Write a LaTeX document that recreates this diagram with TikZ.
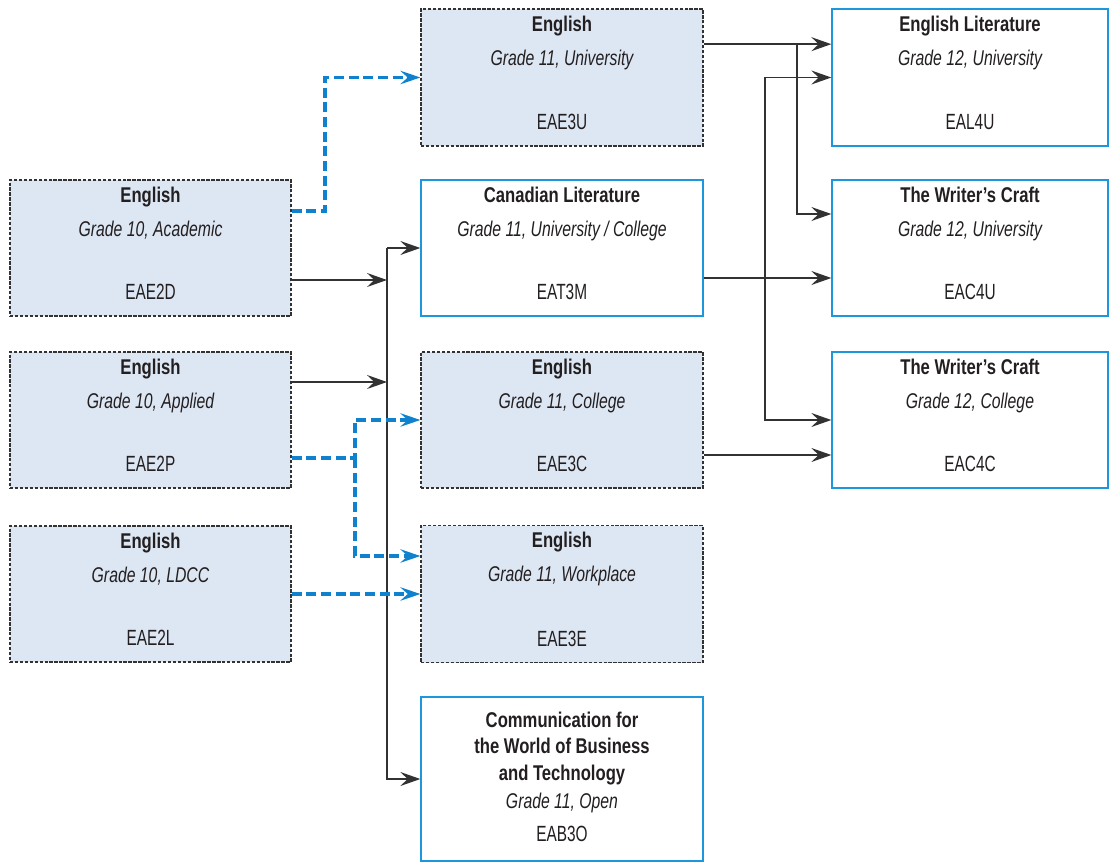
\documentclass[tikz,border=0pt]{standalone}
\usepackage{fontspec}
\setmainfont{Liberation Sans}[FakeStretch=0.70, BoldFeatures={FakeStretch=0.78}, ItalicFeatures={FakeStretch=0.74}]
\usetikzlibrary{arrows.meta}
\definecolor{inkgray}{RGB}{35,31,32}
\definecolor{linegray}{RGB}{50,50,50}
\definecolor{paleblue}{RGB}{221,231,243}
\definecolor{skyblue}{RGB}{30,150,220}
\definecolor{dashblue}{RGB}{16,130,205}
\tikzset{
  required/.style={draw=linegray, fill=paleblue, dash pattern=on 2.5pt off 1.2pt, line width=0.8pt, inner sep=0pt},
  optional/.style={draw=skyblue, fill=white, line width=1pt, inner sep=0pt},
  title/.style={font=\bfseries\fontsize{16}{20}\selectfont, text=inkgray, anchor=base, align=center},
  grade/.style={font=\itshape\fontsize{16}{20}\selectfont, text=inkgray, anchor=base},
  code/.style={font=\fontsize{16.5}{20}\selectfont, text=inkgray, anchor=base},
  link/.style={draw=linegray, line width=1pt, -{Stealth[length=15pt,width=10.5pt,inset=5.5pt]}},
  blink/.style={draw=dashblue, line width=2.3pt, dash pattern=on 7.5pt off 3.5pt, -{Stealth[length=15pt,width=10pt,inset=5.5pt]}}
}
\begin{document}
\begin{tikzpicture}[x=0.75pt, y=-0.75pt]
  \useasboundingbox (0,0) rectangle (1109,863);

  % grade 10
  \node[required, minimum width=210.75pt, minimum height=102pt] (eae2d) at (150.5,248) {};
  \node[title] (eae2d-t) at ([yshift=-17.25pt]eae2d.north) {English};
  \node[grade] (eae2d-g) at ([yshift=-42.75pt]eae2d.north) {Grade 10, Academic};
  \node[code]  (eae2d-c) at ([yshift=12.75pt]eae2d.south) {EAE2D};

  \node[required, minimum width=210.75pt, minimum height=102pt] (eae2p) at (150.5,420) {};
  \node[title] (eae2p-t) at ([yshift=-17.25pt]eae2p.north) {English};
  \node[grade] (eae2p-g) at ([yshift=-42.75pt]eae2p.north) {Grade 10, Applied};
  \node[code]  (eae2p-c) at ([yshift=12.75pt]eae2p.south) {EAE2P};

  \node[required, minimum width=210.75pt, minimum height=102pt] (eae2l) at (150.5,594) {};
  \node[title] (eae2l-t) at ([yshift=-17.25pt]eae2l.north) {English};
  \node[grade] (eae2l-g) at ([yshift=-42.75pt]eae2l.north) {Grade 10, LDCC};
  \node[code]  (eae2l-c) at ([yshift=12.75pt]eae2l.south) {EAE2L};

  % grade 11
  \node[required, minimum width=211.5pt, minimum height=102.75pt] (eae3u) at (562,77.5) {};
  \node[title] (eae3u-t) at ([yshift=-17.25pt]eae3u.north) {English};
  \node[grade] (eae3u-g) at ([yshift=-42.75pt]eae3u.north) {Grade 11, University};
  \node[code]  (eae3u-c) at ([yshift=12.75pt]eae3u.south) {EAE3U};

  \node[optional, minimum width=211.5pt, minimum height=102pt] (eat3m) at (562,248) {};
  \node[title] (eat3m-t) at ([yshift=-17.25pt]eat3m.north) {Canadian Literature};
  \node[grade] (eat3m-g) at ([yshift=-42.75pt]eat3m.north) {Grade 11, University / College};
  \node[code]  (eat3m-c) at ([yshift=12.75pt]eat3m.south) {EAT3M};

  \node[required, minimum width=211.5pt, minimum height=102pt] (eae3c) at (562,420) {};
  \node[title] (eae3c-t) at ([yshift=-17.25pt]eae3c.north) {English};
  \node[grade] (eae3c-g) at ([yshift=-42.75pt]eae3c.north) {Grade 11, College};
  \node[code]  (eae3c-c) at ([yshift=12.75pt]eae3c.south) {EAE3C};

  \node[required, minimum width=211.5pt, minimum height=102.75pt] (eae3e) at (562,594) {};
  \node[title] (eae3e-t) at ([yshift=-17.25pt]eae3e.north) {English};
  \node[grade] (eae3e-g) at ([yshift=-42.75pt]eae3e.north) {Grade 11, Workplace};
  \node[code]  (eae3e-c) at ([yshift=12.75pt]eae3e.south) {EAE3E};

  \node[optional, minimum width=211.5pt, minimum height=123pt] (eab3o) at (562,779) {};
  \node[title, anchor=north] (eab3o-t) at ([yshift=-8pt]eab3o.north) {Communication for\\the World of Business\\and Technology};
  \node[grade] (eab3o-g) at ([yshift=-84pt]eab3o.north) {Grade 11, Open};
  \node[code]  (eab3o-c) at ([yshift=15pt]eab3o.south) {EAB3O};

  % grade 12
  \node[optional, minimum width=207pt, minimum height=102.75pt] (eal4u) at (970,77.5) {};
  \node[title] (eal4u-t) at ([yshift=-17.25pt]eal4u.north) {English Literature};
  \node[grade] (eal4u-g) at ([yshift=-42.75pt]eal4u.north) {Grade 12, University};
  \node[code]  (eal4u-c) at ([yshift=12.75pt]eal4u.south) {EAL4U};

  \node[optional, minimum width=207pt, minimum height=102pt] (eac4u) at (970,248) {};
  \node[title] (eac4u-t) at ([yshift=-17.25pt]eac4u.north) {The Writer’s Craft};
  \node[grade] (eac4u-g) at ([yshift=-42.75pt]eac4u.north) {Grade 12, University};
  \node[code]  (eac4u-c) at ([yshift=12.75pt]eac4u.south) {EAC4U};

  \node[optional, minimum width=207pt, minimum height=102pt] (eac4c) at (970,420) {};
  \node[title] (eac4c-t) at ([yshift=-17.25pt]eac4c.north) {The Writer’s Craft};
  \node[grade] (eac4c-g) at ([yshift=-42.75pt]eac4c.north) {Grade 12, College};
  \node[code]  (eac4c-c) at ([yshift=12.75pt]eac4c.south) {EAC4C};

  % junction points
  \coordinate (trunk) at (387,0);
  \coordinate (forkA) at (325,0);
  \coordinate (forkB) at (355,0);
  \coordinate (forkC) at (765,0);
  \coordinate (forkD) at (797,0);
  \coordinate (d1) at ([yshift=27.75pt]eae2d.east);
  \coordinate (d2) at ([yshift=-24pt]eae2d.east);
  \coordinate (p1) at ([yshift=28.5pt]eae2p.east);
  \coordinate (p2) at ([yshift=-28.5pt]eae2p.east);
  \coordinate (w1) at ([yshift=28.5pt]eae3e.west);
  \coordinate (u1) at ([yshift=25pt]eae3u.east);
  \coordinate (l1) at ([yshift=25pt]eal4u.west);
  \coordinate (c1) at ([yshift=25.5pt]eac4u.west);
  \coordinate (m1) at ([yshift=-22.5pt]eat3m.east);
  \coordinate (c2) at ([yshift=-22.5pt]eac4u.west);
  \coordinate (e1) at ([yshift=-26.25pt]eae3c.east);
  \coordinate (k1) at ([yshift=-26.25pt]eac4c.west);

  % grade 10 to grade 11
  \draw[blink] (d1) -- (d1 -| forkA) |- (eae3u.west);
  \draw[link] (d2) -- (d2 -| trunk);
  \draw[link] (p1) -- (p1 -| trunk);
  \draw[link] (trunk |- eat3m.west) -- (eat3m.west);
  \draw[link] (trunk |- eat3m.west) |- (eab3o.west);
  \draw[blink] (p2) -- (p2 -| forkB) |- (eae3c.west);
  \draw[blink] (p2 -| forkB) |- (w1);
  \draw[blink] (eae2l.east) -- (eae3e.west);

  % grade 11 to grade 12
  \draw[link] (u1) -- (l1);
  \draw[link] (u1 -| forkD) |- (c1);
  \draw[link] (m1) -- (c2);
  \draw[link] (m1 -| forkC) |- (eal4u.west);
  \draw[link] (m1 -| forkC) |- (eac4c.west);
  \draw[link] (e1) -- (k1);
\end{tikzpicture}
\end{document}
